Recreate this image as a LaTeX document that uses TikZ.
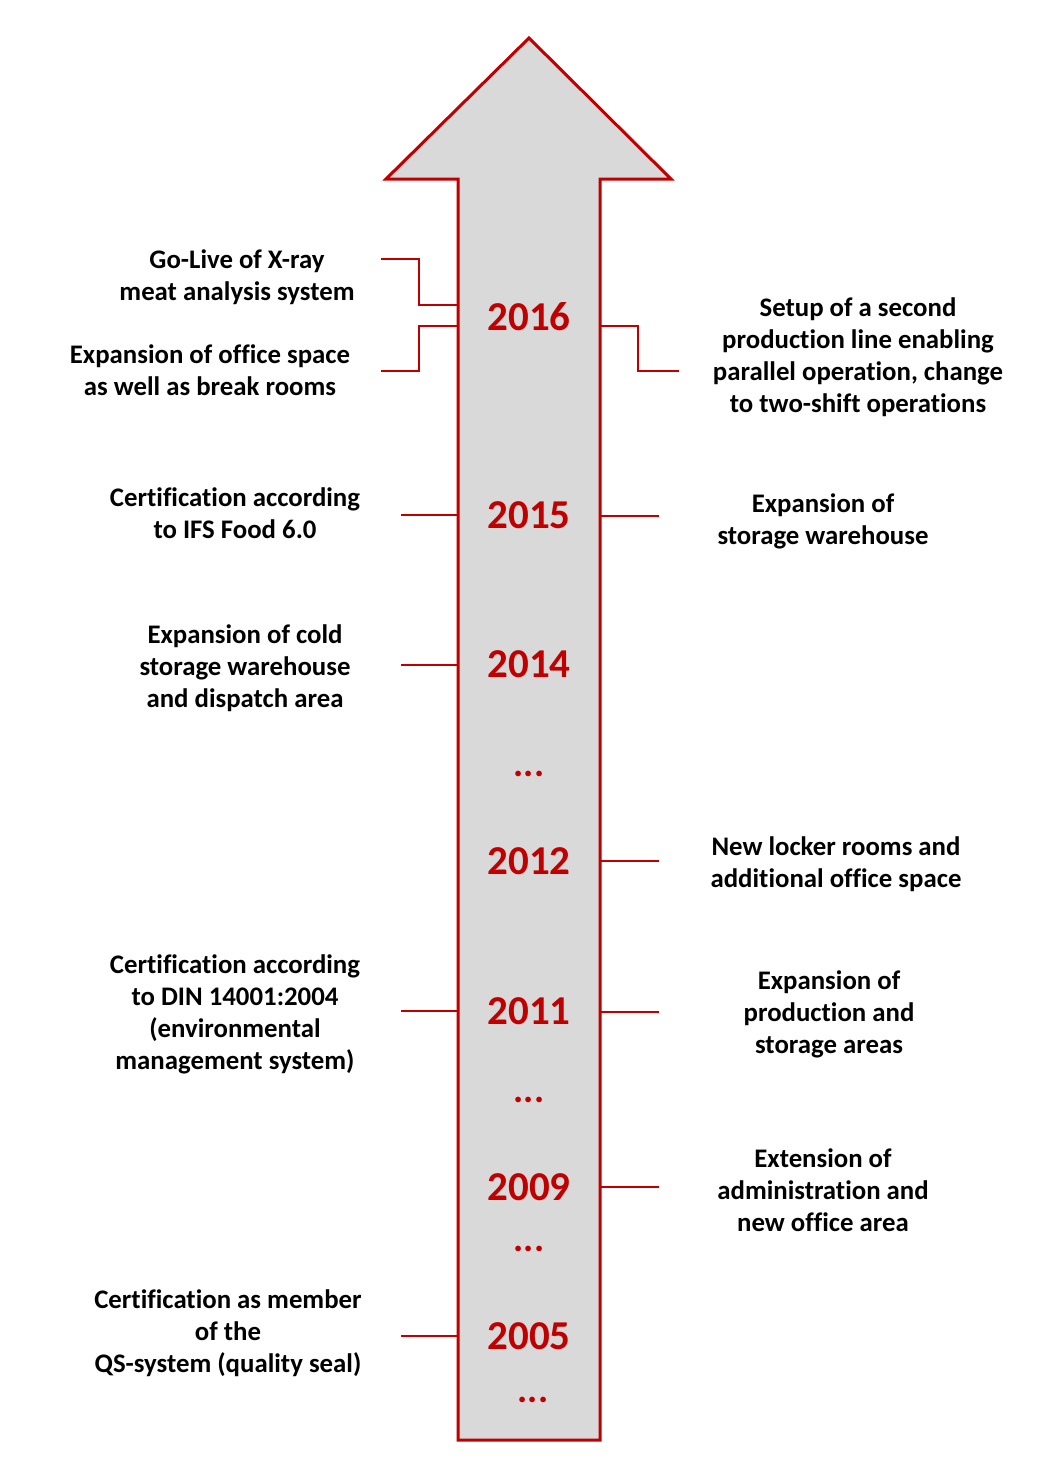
\documentclass[tikz,border=0pt]{standalone}
\usepackage{fontspec}
\setmainfont{Carlito}[Ligatures=NoCommon]
\definecolor{tlred}{HTML}{C00000}
\definecolor{tlgray}{HTML}{D9D9D9}
\begin{document}
\begin{tikzpicture}[x=1pt,y=-1pt,
    year/.style={text=tlred,font=\bfseries\fontsize{41}{44}\selectfont,inner sep=0pt},
    dots/.style={text=tlred,font=\bfseries\fontsize{38}{40}\selectfont,inner sep=0pt},
    event/.style={align=center,font=\bfseries\fontsize{26.8}{32}\selectfont,inner sep=0pt},
    link/.style={draw=tlred,line width=2pt}]
\def\timearrow{(458,1440) -- (458,179) -- (386,179) -- (529,38) -- (671,179) -- (600,179) -- (600,1440) -- cycle}
\useasboundingbox (0,0) rectangle (1058,1478);
    \draw[draw=tlred,fill=tlgray,line width=3pt,miter limit=20] \timearrow;
    % years
    \node[year] (y2016) at (529,317) {2016};
    \node[year] (y2015) at (529,515) {2015};
    \node[year] (y2014) at (529,664) {2014};
    \node[year] (y2012) at (529,861) {2012};
    \node[year] (y2011) at (529,1011) {2011};
    \node[year] (y2009) at (529,1187) {2009};
    \node[year] (y2005) at (529,1336) {2005};
    \node[dots] (d1) at (529,774) {...};
    \node[dots] (d2) at (529,1100) {...};
    \node[dots] (d3) at (529,1249) {...};
    \node[dots] (d4) at (533,1400) {...};
    % events left
    \node[event] (xray) at (237,277) {Go-Live of X-ray\\meat analysis system};
    \node[event] (office) at (210,370) {Expansion of office space\\as well as break rooms};
    \node[event] (ifs) at (235,513) {Certification according\\to IFS Food 6.0};
    \node[event] (cold) at (245,668) {Expansion of cold\\storage warehouse\\and dispatch area};
    \node[event] (din) at (235,1014) {Certification according\\to DIN 14001:2004\\(environmental\\management system)};
    \node[event] (qs) at (228,1333) {Certification as member\\of the\\QS-system (quality seal)};
    % events right
    \node[event] (line) at (858,357) {Setup of a second\\production line enabling\\parallel operation, change\\to two-shift operations};
    \node[event] (storage) at (823,521) {Expansion of\\storage warehouse};
    \node[event] (locker) at (836,864) {New locker rooms and\\additional office space};
    \node[event] (prod) at (829,1014) {Expansion of\\production and\\storage areas};
    \node[event] (admin) at (823,1190) {Extension of\\administration and\\new office area};
    % connector ends
    \coordinate (xrayL) at (381,259); \coordinate (xrayR) at (458,305);
    \coordinate (officeL) at (381,371); \coordinate (officeR) at (458,326);
    \coordinate (lineL) at (600,326); \coordinate (lineR) at (679,371);
    \coordinate (ifsL) at (401,515); \coordinate (ifsR) at (458,515);
    \coordinate (storageL) at (600,516); \coordinate (storageR) at (659,516);
    \coordinate (coldL) at (401,665); \coordinate (coldR) at (458,665);
    \coordinate (lockerL) at (600,861); \coordinate (lockerR) at (659,861);
    \coordinate (dinL) at (401,1011); \coordinate (dinR) at (458,1011);
    \coordinate (prodL) at (600,1012); \coordinate (prodR) at (659,1012);
    \coordinate (adminL) at (600,1187); \coordinate (adminR) at (659,1187);
    \coordinate (qsL) at (401,1336); \coordinate (qsR) at (458,1336);
    \draw[link] (xrayL) -- (419,259) |- (xrayR);
    \draw[link] (officeL) -- (419,371) |- (officeR);
    \draw[link] (lineL) -- (638,326) |- (lineR);
    \foreach \e in {ifs,storage,cold,locker,din,prod,admin,qs}
        \draw[link] (\e L) -- (\e R);
\end{tikzpicture}
\end{document}
